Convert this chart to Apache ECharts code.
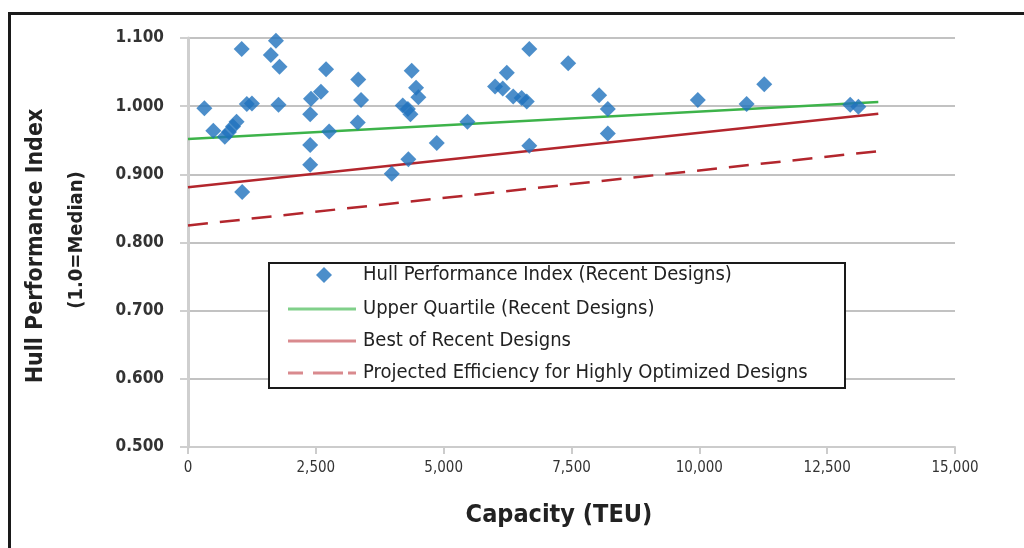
<!DOCTYPE html>
<html>
<head>
<meta charset="utf-8">
<script src="https://cdn.jsdelivr.net/npm/echarts@6/dist/echarts.min.js"></script>
<style>
  html, body { margin: 0; padding: 0; background: #fff; }
  #chart { width: 1024px; height: 548px; }
</style>
</head>
<body>
<div id="chart"></div>
<script>
// Hull performance of recent container ship designs vs. capacity
const capacity = [320, 1050, 1720, 1620, 1790, 1150, 1250, 1770, 495, 720, 800, 880, 950, 1060,
  2390, 2390, 2390, 2405, 2600, 2700, 2760, 3330, 3385, 3320,
  4375, 4460, 4505, 4200, 4300, 4350, 4310, 3985, 4865, 5465,
  6005, 6155, 6235, 6360, 6525, 6625, 6675, 6675, 7435,
  8040, 8210, 8210, 9970, 10925, 11270, 12950, 13110];
const hpi = [0.997, 1.084, 1.096, 1.075, 1.058, 1.003, 1.004, 1.002, 0.964, 0.955, 0.962, 0.970, 0.977, 0.874,
  0.943, 0.914, 0.988, 1.011, 1.021, 1.054, 0.963, 1.039, 1.009, 0.976,
  1.052, 1.027, 1.013, 1.001, 0.996, 0.988, 0.922, 0.901, 0.946, 0.977,
  1.029, 1.026, 1.049, 1.014, 1.012, 1.007, 1.084, 0.942, 1.063,
  1.016, 0.996, 0.960, 1.009, 1.003, 1.032, 1.002, 0.999];

// Trend lines (end points in TEU / index)
const trendX = [0, 13500];
const upperQuartile = [0.952, 1.006];
const bestRecent = [0.881, 0.989];
const projected = [0.825, 0.934];

const seriesNames = [
  'Hull Performance Index (Recent Designs)',
  'Upper Quartile (Recent Designs)',
  'Best of Recent Designs',
  'Projected Efficiency for Highly Optimized Designs'
];

const FONT = '"Liberation Sans Narrow", "DejaVu Sans Condensed", "Liberation Sans", sans-serif';
const BLUE = '#1f72bd', GREEN = '#3db34a', RED = '#b3262d';

const pairs = (xs, ys) => xs.map((x, i) => [x, ys[i]]);

// legend glyphs for the trend lines (68 x 3)
const solidIcon = 'path://M0,0h68v3h-68z';
const dashIcon = 'path://M0,0h15v3h-15z M25,0h30v3h-30z M60,0h8v3h-8z';

const legendText = { fontFamily: FONT, fontSize: 20, color: '#222' };

const chart = echarts.init(document.getElementById('chart'), null, { renderer: 'canvas' });

chart.setOption({
  animation: false,
  backgroundColor: '#ffffff',
  textStyle: { fontFamily: FONT },
  grid: { left: 188, top: 38, right: 69, bottom: 101, containLabel: false },
  graphic: [
    {
      type: 'rect', z: 0, silent: true,
      shape: { x: 9.5, y: 13.5, width: 1100, height: 600 },
      style: { fill: 'none', stroke: '#1a1a1a', lineWidth: 3 }
    },
    {
      type: 'rect', z: 3, silent: true,
      shape: { x: 269, y: 263, width: 576, height: 125 },
      style: { fill: '#fff', stroke: '#1a1a1a', lineWidth: 2 }
    },
    {
      type: 'text', x: 36, y: 246, rotation: Math.PI / 2, silent: true,
      style: { text: 'Hull Performance Index', font: 'bold 23px ' + FONT, fill: '#222',
               textAlign: 'center', textVerticalAlign: 'middle' }
    },
    {
      type: 'text', x: 77, y: 240, rotation: Math.PI / 2, silent: true,
      style: { text: '(1.0=Median)', font: 'bold 20px ' + FONT, fill: '#222',
               textAlign: 'center', textVerticalAlign: 'middle' }
    },
    {
      type: 'text', x: 559, y: 515, silent: true,
      style: { text: 'Capacity (TEU)', font: 'bold 25px ' + FONT, fill: '#222',
               textAlign: 'center', textVerticalAlign: 'middle' }
    }
  ],
  legend: [
    {
      left: 316, top: 265, padding: 0, z: 5,
      data: [{ name: seriesNames[0], icon: 'diamond' }],
      itemWidth: 16, itemHeight: 16,
      textStyle: Object.assign({ padding: [0, 0, 0, 26] }, legendText)
    },
    {
      left: 288, top: 299, padding: 0, z: 5,
      orient: 'vertical', itemGap: 12,
      itemWidth: 68, itemHeight: 3,
      data: [
        { name: seriesNames[1], icon: solidIcon, itemStyle: { color: '#80d08a' } },
        { name: seriesNames[2], icon: solidIcon, itemStyle: { color: '#d98a8e' } },
        { name: seriesNames[3], icon: dashIcon, itemStyle: { color: '#d98a8e' } }
      ],
      textStyle: Object.assign({ padding: [0, 0, 0, 2] }, legendText)
    }
  ],
  xAxis: {
    type: 'value', min: 0, max: 15000, interval: 2500,
    axisLine: { show: true, lineStyle: { color: '#cccccc', width: 2 } },
    axisTick: { show: true, length: 7, lineStyle: { color: '#cccccc', width: 2 } },
    axisLabel: {
      fontFamily: FONT, fontSize: 15, color: '#333', margin: 14,
      formatter: v => v.toLocaleString('en-US')
    },
    splitLine: { show: false }
  },
  yAxis: {
    type: 'value', min: 0.5, max: 1.1, interval: 0.1,
    axisLine: { show: true, lineStyle: { color: '#cfcfcf', width: 3 } },
    axisTick: { show: true, length: 8, lineStyle: { color: '#cfcfcf', width: 2 } },
    axisLabel: {
      fontFamily: FONT, fontSize: 17, fontWeight: 'bold', color: '#333', margin: 24,
      formatter: v => v.toFixed(3)
    },
    splitLine: { show: true, lineStyle: { color: '#c2c2c2', width: 2 } }
  },
  series: [
    {
      name: seriesNames[0], type: 'scatter',
      symbol: 'diamond', symbolSize: 16,
      itemStyle: { color: BLUE },
      data: pairs(capacity, hpi), z: 5
    },
    {
      name: seriesNames[1], type: 'line', symbol: 'none',
      lineStyle: { color: GREEN, width: 2.5 },
      itemStyle: { color: GREEN },
      data: pairs(trendX, upperQuartile), z: 3
    },
    {
      name: seriesNames[2], type: 'line', symbol: 'none',
      lineStyle: { color: RED, width: 2.5 },
      itemStyle: { color: RED },
      data: pairs(trendX, bestRecent), z: 3
    },
    {
      name: seriesNames[3], type: 'line', symbol: 'none',
      lineStyle: { color: RED, width: 2.5, type: [20, 12] },
      itemStyle: { color: RED },
      data: pairs(trendX, projected), z: 3
    }
  ]
});
</script>
</body>
</html>
